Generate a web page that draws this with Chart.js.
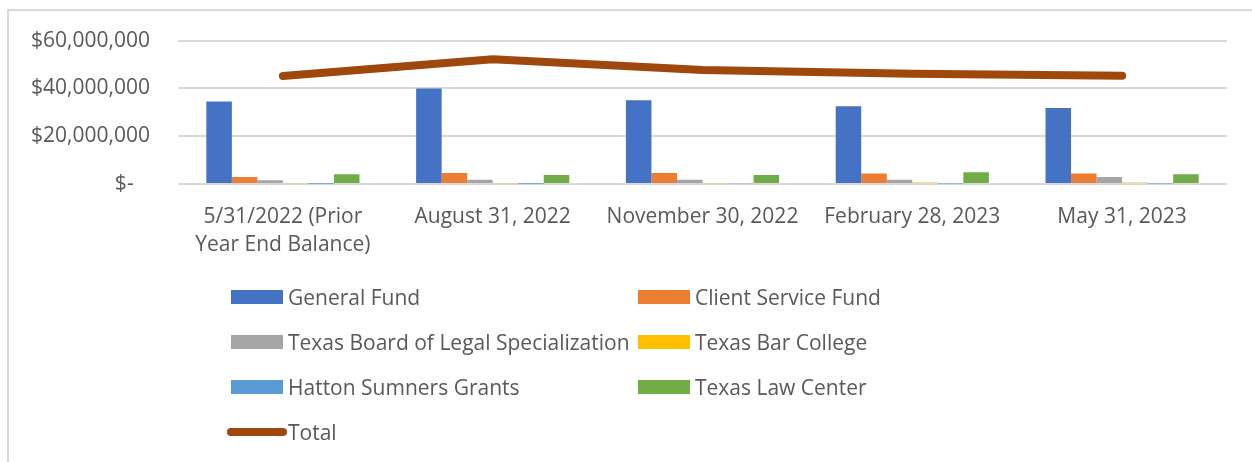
<!DOCTYPE html>
<html>
<head>
<meta charset="utf-8">
<script src="https://cdn.jsdelivr.net/npm/chart.js@4"></script>
<style>
    body {margin: 0; background: #fff; font-family: 'Open Sans', sans-serif;}
    #frame {position: absolute; left: 7px; top: 9px; width: 1300px; height: 500px; border-left: 2px solid #d9d9d9; border-top: 2px solid #d9d9d9;}
    #wrap {position: absolute; left: 0; top: 0; width: 1252px; height: 270px;}
    #legend {position: absolute; left: 0; top: 0; width: 1252px; height: 462px; pointer-events: none;}
    .item {position: absolute; height: 30px; display: flex; align-items: center; font-size: 21px; color: #595959; white-space: nowrap;}
    .sw {width: 52px; height: 14px; margin-right: 5px;}
    .ln {width: 60px; height: 8px; border-radius: 4px; margin-left: -4px; margin-right: 1px;}
</style>
</head>
<body>
<div id="frame"></div>
<div id="wrap"><canvas id="myChart" width="1252" height="270"></canvas></div>
<div id="legend"></div>
<script>
const categories = [['5/31/2022 (Prior', 'Year End Balance)'], 'August 31, 2022', 'November 30, 2022', 'February 28, 2023', 'May 31, 2023'];
const generalFund = [34500000, 40000000, 35000000, 32500000, 31800000];
const clientServiceFund = [2900000, 4600000, 4600000, 4400000, 4400000];
const legalSpecialization = [1600000, 1800000, 1800000, 1800000, 2900000];
const barCollege = [300000, 300000, 300000, 600000, 600000];
const hattonSumners = [100000, 150000, 300000, 200000, 200000];
const lawCenter = [4100000, 3800000, 3800000, 4900000, 4100000];
const total = [45200000, 52200000, 47700000, 46100000, 45300000];
const yTicks = [0, 20000000, 40000000, 60000000];

const txt = '#595959';
const bars = [
    ['General Fund', generalFund, '#4472C4'],
    ['Client Service Fund', clientServiceFund, '#ED7D31'],
    ['Texas Board of Legal Specialization', legalSpecialization, '#A5A5A5'],
    ['Texas Bar College', barCollege, '#FFC000'],
    ['Hatton Sumners Grants', hattonSumners, '#5B9BD5'],
    ['Texas Law Center', lawCenter, '#70AD47']
];

const datasets = bars.map(function (b) {
    return {type: 'bar', label: b[0], data: b[1], backgroundColor: b[2], order: 1,
        categoryPercentage: 0.73, barPercentage: 1};
});
datasets.push({type: 'line', label: 'Total', data: total, borderColor: '#9E480E', backgroundColor: '#9E480E',
    borderWidth: 8, borderCapStyle: 'round', borderJoinStyle: 'round', pointRadius: 0, tension: 0, order: 0});

const myChart = new Chart(document.getElementById('myChart'), {
    data: {labels: categories, datasets: datasets},
    options: {
        responsive: false,
        animation: false,
        layout: {padding: {top: 36, right: 25, left: 0, bottom: 0}},
        plugins: {legend: {display: false}, tooltip: {enabled: false}},
        scales: {
            x: {
                grid: {display: false},
                border: {display: false},
                ticks: {color: txt, font: {family: 'Open Sans', size: 21, lineHeight: 1.33}, padding: 11, maxRotation: 0, autoSkip: false},
                afterFit: function (s) { s.height = 86; }
            },
            y: {
                min: 0, max: 60000000,
                afterBuildTicks: function (s) { s.ticks = yTicks.map(function (v) { return {value: v}; }); },
                grid: {color: '#d9d9d9', lineWidth: 2, drawTicks: false},
                border: {display: false},
                ticks: {
                    color: txt, font: {family: 'Open Sans', size: 21}, padding: 28,
                    callback: function (v) { return v === 0 ? '$-   ' : '$' + v.toLocaleString('en-US'); }
                },
                afterFit: function (s) { s.width = 178; }
            }
        }
    }
});

// legend in two columns like the original
const $legend = document.getElementById('legend');
const spots = [[231, 297], [638, 297], [231, 342], [638, 342], [231, 387], [638, 387], [231, 432]];
myChart.data.datasets.forEach(function (ds, i) {
    const item = document.createElement('div');
    item.className = 'item';
    item.style.left = spots[i][0] + 'px';
    item.style.top = (spots[i][1] - 15) + 'px';
    const sw = document.createElement('span');
    sw.className = ds.type === 'line' ? 'ln' : 'sw';
    sw.style.background = ds.type === 'line' ? ds.borderColor : ds.backgroundColor;
    item.appendChild(sw);
    item.appendChild(document.createTextNode(ds.label));
    $legend.appendChild(item);
});
</script>
</body>
</html>
